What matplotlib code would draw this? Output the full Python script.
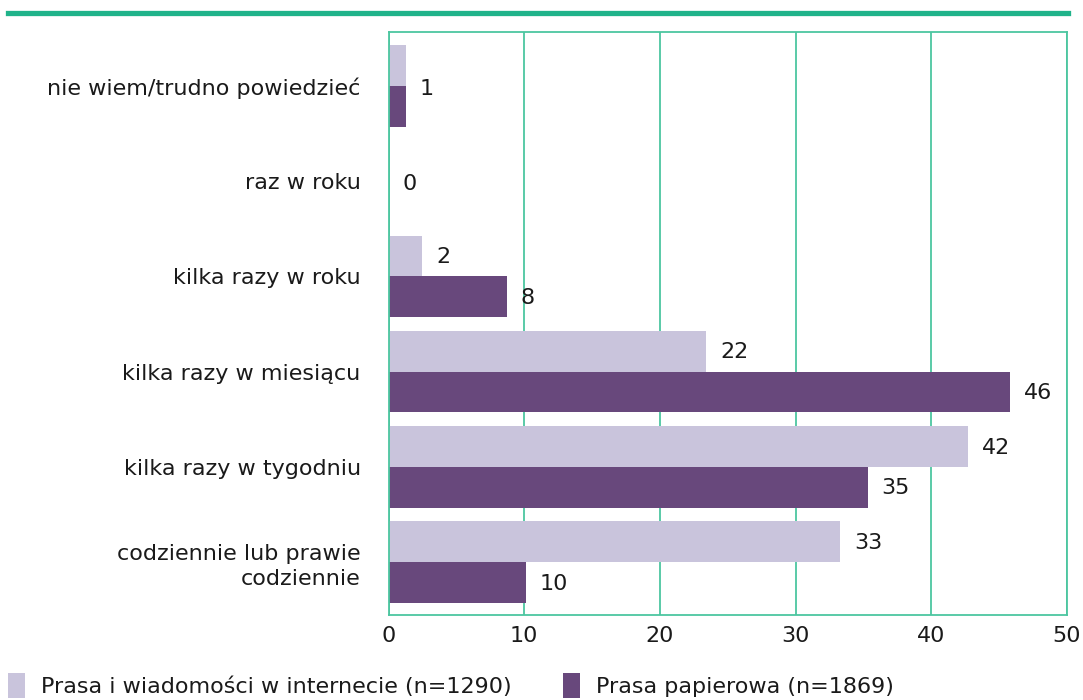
import matplotlib
matplotlib.use("Agg")
import matplotlib.pyplot as plt
import numpy as np
from matplotlib.lines import Line2D

categories = ["codziennie lub prawie\ncodziennie", "kilka razy w tygodniu",
              "kilka razy w miesiącu", "kilka razy w roku", "raz w roku",
              "nie wiem/trudno powiedzieć"]
internet_vals = [33.3, 42.7, 23.4, 2.5, 0.0, 1.3]
paper_vals = [10.1, 35.3, 45.8, 8.7, 0.0, 1.3]
internet_labels = ["33", "42", "22", "2", "0", "1"]
paper_labels = ["10", "35", "46", "8", "0", "1"]
series_names = ["Prasa i wiadomości w internecie (n=1290)", "Prasa papierowa (n=1869)"]
xticks = [0, 10, 20, 30, 40, 50]

LIGHT = "#c9c4dc"
DARK = "#68487c"
GREEN = "#20b38a"
GRID = "#4cc6a0"
TXT = "#1a1a1a"

plt.rcParams['font.family'] = ['DejaVu Sans']
FS = 16

fig = plt.figure(figsize=(10.83, 7.0), dpi=100)
ax = fig.add_axes([388.5/1083, 1-615/700, (1067-388.5)/1083, (615-32)/700])

y = np.arange(len(categories))
h = 0.43
b1 = ax.barh(y + h/2, internet_vals, height=h, color=LIGHT, zorder=3, label=series_names[0])
b2 = ax.barh(y - h/2, paper_vals, height=h, color=DARK, zorder=3, label=series_names[1])

for i in range(len(categories)):
    if internet_labels[i] == paper_labels[i] and internet_vals[i] == paper_vals[i]:
        ax.annotate(internet_labels[i], (internet_vals[i], y[i]), xytext=(10, -2),
                    textcoords="offset points", va="center", ha="left", fontsize=FS, color=TXT, zorder=4)
    else:
        ax.annotate(internet_labels[i], (internet_vals[i], y[i] + h/2), xytext=(10, -1),
                    textcoords="offset points", va="center", ha="left", fontsize=FS, color=TXT, zorder=4)
        ax.annotate(paper_labels[i], (paper_vals[i], y[i] - h/2), xytext=(10, -1),
                    textcoords="offset points", va="center", ha="left", fontsize=FS, color=TXT, zorder=4)

ax.set_xlim(0, 50)
ax.set_ylim(-0.56, len(categories) - 1 + 0.57)
ax.set_xticks(xticks)
ax.set_xticklabels([str(t) for t in xticks], fontsize=FS, color=TXT)
ax.set_yticks(y)
ax.set_yticklabels(categories, fontsize=FS, color=TXT, linespacing=1.3)
ax.tick_params(axis='both', length=0)
ax.tick_params(axis='x', pad=8)
ax.tick_params(axis='y', pad=20)
ax.xaxis.grid(True, color=GRID, linewidth=1.3, zorder=0)
ax.set_axisbelow(True)
for s in ax.spines.values():
    s.set_color(GRID)
    s.set_linewidth(1.3)
    s.set_zorder(5)

fig.add_artist(Line2D([8/1083, 1068/1083], [1-12.5/700, 1-12.5/700], color=GREEN, linewidth=3.8))

leg = fig.legend(handles=[b1, b2], labels=series_names, loc="lower left",
                 bbox_to_anchor=(-0.011, -0.026), ncol=2, frameon=False, fontsize=FS,
                 handlelength=0.75, handleheight=1.4, handletextpad=0.75, columnspacing=2.3)
for t in leg.get_texts():
    t.set_color(TXT)

fig.savefig("out.png", dpi=100)
